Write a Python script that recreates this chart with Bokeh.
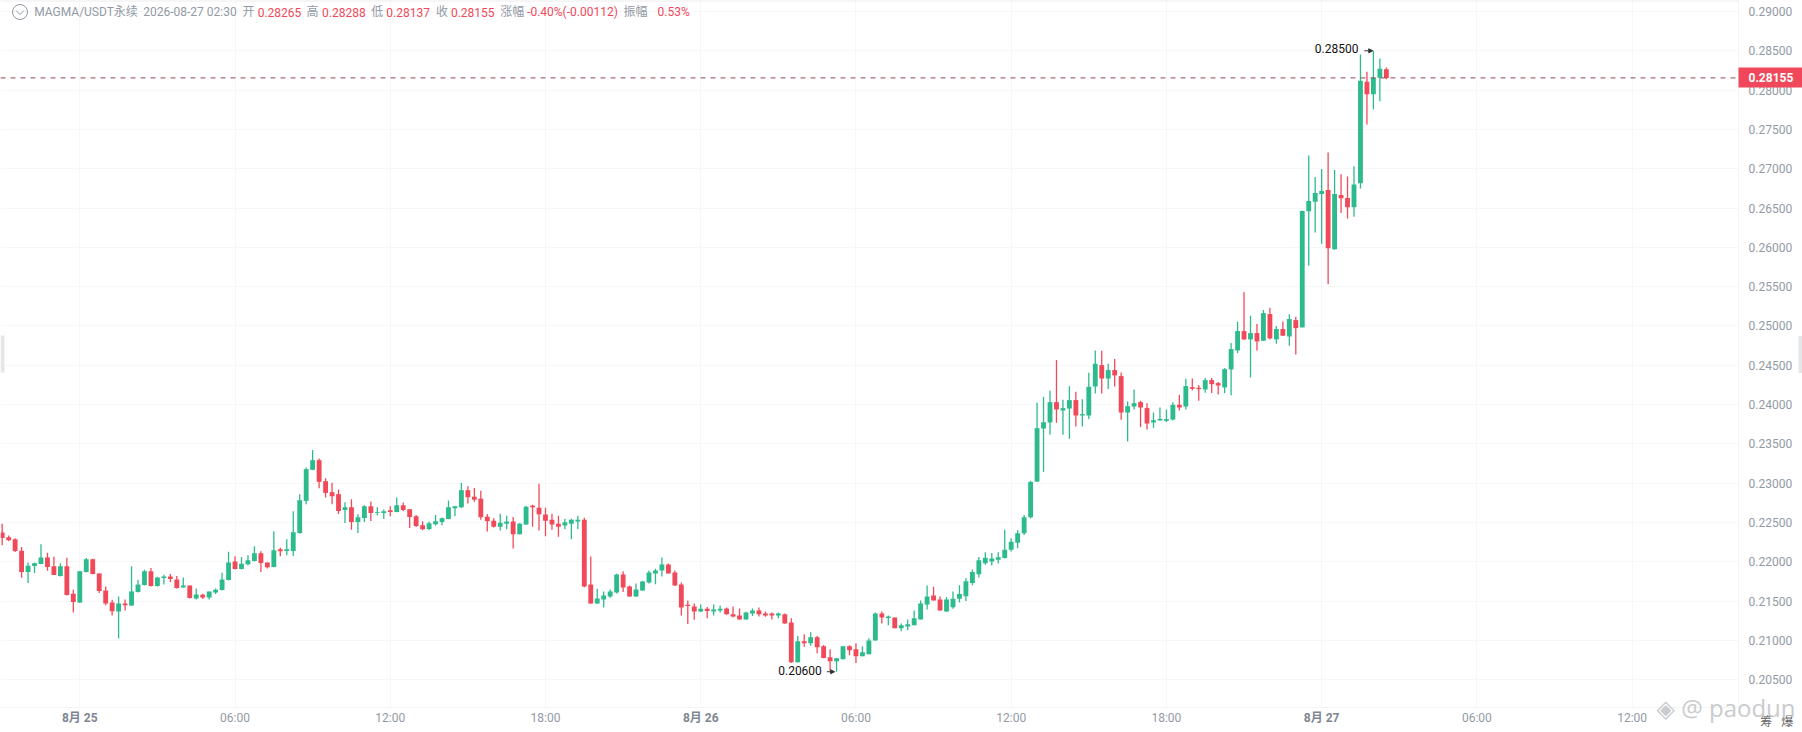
from bokeh.plotting import figure
from bokeh.embed import file_html
from bokeh.resources import INLINE
from bokeh.models import (FixedTicker, NumeralTickFormatter, Label, Span, Arrow, NormalHead,
                          BoxAnnotation, ColumnDataSource, LinearAxis)

# Prices in units of 0.00001 USDT. Index 0 is 2026-08-25 00:00, 15-minute candles.
first_index = -12
highs = [
 22484,22332,22297,22187,21991,21991,22221,22115,22064,21979,22051,21643,
 21877,22047,22038,21851,21686,21516,21558,21520,21941,21770,21898,21919,21809,21834,21843,21817,21800,21698,21660,21592,21622,21660,21860,22127,22068,22060,22081,22196,22132,21991,22387,22179,22285,22642,22859,23199,23420,23313,23062,23003,22918,22757,22795,22604,22718,22765,22693,22663,22705,22816,22752,22667,22595,22514,22510,22595,22561,22778,22710,23003,22961,
 22937,22903,22607,22552,22611,22586,22569,22493,22709,22725,22992,22687,22611,22586,22548,22548,22586,22560,22066,21655,21621,21647,21846,21880,21698,21723,21757,21888,21909,22053,21977,21888,21736,21507,21469,21456,21423,21456,21444,21418,21431,21406,21363,21406,21418,21368,21355,21355,21342,21279,21055,21076,21101,21055,20940,20885,20771,20928,20936,20962,20923,21025,21355,21368,21317,21291,21215,21266,21380,21507,21697,21681,21558,21550,
 21620,21700,21790,21900,22060,22120,22110,22120,22407,22297,22400,22595,23030,
 24022,24098,24174,24565,24060,24234,24162,24068,24404,24688,24684,24518,24578,24408,24038,24191,24047,24017,23898,23962,23937,24030,24123,24327,24331,24247,24336,24336,24285,24463,24781,25053,25427,25130,25023,25202,25231,24998,25057,25147,25117,26467,27167,26895,26997,27205,26985,26929,26900,27031,28453,28233,28500,28402,28288]
body_tops = [
 22370,22310,22285,22140,21949,21979,22055,22055,21941,21941,21941,21592,
 21877,22030,22030,21851,21635,21482,21469,21469,21622,21711,21877,21877,21800,21813,21813,21775,21698,21698,21583,21579,21622,21643,21775,21991,22004,21975,22017,22106,22106,21991,22145,22157,22157,22374,22782,23177,23292,23292,23024,22884,22859,22693,22693,22565,22705,22705,22629,22642,22654,22718,22718,22667,22578,22463,22489,22514,22552,22693,22705,22910,22910,
 22827,22802,22573,22522,22497,22510,22510,22484,22700,22713,22687,22599,22535,22484,22501,22535,22535,22535,21710,21533,21571,21621,21837,21837,21685,21647,21748,21863,21888,21964,21964,21863,21710,21452,21431,21401,21401,21393,21401,21406,21330,21317,21355,21380,21380,21342,21342,21342,21330,21228,20987,20987,21038,21038,20923,20784,20771,20923,20923,20885,20847,20999,21342,21342,21304,21291,21190,21203,21279,21469,21558,21571,21520,21520,
 21530,21590,21750,21870,22020,22050,22042,22058,22153,22255,22361,22566,23015,
 23699,23775,24030,24030,23954,24056,24056,23877,24225,24518,24501,24438,24438,24361,23979,24017,24030,23954,23801,23818,23814,23996,23996,24234,24221,24213,24310,24310,24272,24450,24705,24934,24934,24909,24909,25163,25151,24960,24960,25087,25074,26462,26590,26692,26717,26730,26679,26666,26628,26798,28118,28105,28156,28271,28265]
body_bottoms = [
 22302,22272,22136,21868,21868,21945,21970,21932,21830,21817,21575,21486,
 21482,21868,21843,21626,21469,21371,21367,21447,21443,21613,21703,21690,21690,21792,21779,21664,21673,21537,21532,21545,21545,21609,21639,21766,21907,21907,21966,22009,21983,21928,21932,22132,22136,22136,22366,22774,23169,23016,22875,22833,22646,22659,22506,22506,22557,22620,22620,22620,22633,22633,22659,22570,22455,22412,22417,22476,22506,22544,22680,22693,22820,
 22789,22565,22514,22446,22446,22484,22349,22349,22472,22692,22603,22522,22472,22446,22459,22484,22510,21685,21469,21469,21520,21558,21609,21672,21558,21558,21634,21736,21850,21888,21850,21698,21418,21435,21368,21368,21372,21368,21380,21330,21304,21266,21266,21342,21330,21317,21317,21317,21215,20720,20720,20962,20962,20911,20775,20733,20733,20758,20873,20797,20797,20822,20999,21291,21283,21152,21152,21177,21190,21266,21456,21507,21380,21368,
 21420,21530,21560,21730,21840,21980,22004,22025,22046,22153,22240,22361,22566,
 23020,23695,23771,23937,23924,23949,23860,23860,23860,24230,24331,24331,24370,23898,23898,23975,23962,23758,23771,23797,23792,23809,23962,23975,24200,24196,24191,24259,24242,24217,24446,24688,24828,24828,24803,24811,24841,24828,24875,24866,24972,24981,26458,26581,26679,25987,25974,26624,26509,26509,26815,27948,27948,28156,28155]
lows = [
 22208,22259,22123,21796,21728,21856,21966,21885,21830,21813,21571,21354,
 21473,21864,21839,21601,21447,21316,21027,21379,21435,21609,21698,21686,21686,21711,21741,21660,21673,21532,21520,21524,21520,21588,21635,21762,21902,21902,21953,22004,21868,21915,21928,22068,22081,22072,22357,22731,23165,22935,22816,22731,22608,22493,22408,22366,22506,22518,22591,22544,22578,22629,22642,22429,22442,22400,22404,22459,22463,22540,22578,22680,22740,
 22763,22535,22383,22434,22396,22412,22167,22345,22467,22446,22396,22324,22408,22319,22412,22285,22417,21676,21465,21465,21418,21541,21596,21613,21554,21554,21630,21723,21714,21812,21850,21693,21317,21207,21262,21359,21279,21317,21355,21325,21291,21266,21262,21308,21304,21300,21266,21279,21211,20712,20716,20919,20932,20835,20771,20615,20600,20758,20809,20712,20797,20822,20999,21215,21190,21152,21114,21127,21190,21266,21393,21507,21376,21359,
 21400,21480,21500,21700,21800,21960,21953,21978,22040,22130,22170,22340,22550,
 23015,23143,23614,23767,23614,23563,23720,23720,23814,24140,24140,24196,24230,23805,23529,23937,23712,23682,23703,23797,23775,23797,23924,23937,24179,24047,24149,24145,24128,24145,24119,24654,24824,24344,24688,24807,24828,24773,24871,24747,24637,24981,25766,26187,26046,25529,25970,26437,26365,26390,26747,27562,27753,27859,28137]
# u = close above open (green), d = close below open (red)
directions = ("dddduuuddudd" "uuddddudu" "u" "uduuddudud" "uuuuduuudd" "uduuuuuddd" "duduuduudu" "dddduuuuuu" "d"
              "dddduuduud" "dddduuuddu" "uuudduuuuu" "ddddduduud" "dduudddudd" "ududdduudd" "uuududuuuu" "uddu"
              "uuuuuuuuuuuuu" "uuuduuduuu" "dudduudduu" "uududduddu" "uududududu" "duuuududdu" "uduud")
n = len(highs)
assert len(body_tops) == n and len(body_bottoms) == n and len(lows) == n
assert len(directions) == n

price_ticks = [round(0.205 + 0.005 * k, 3) for k in range(18)]
time_ticks = [0, 24, 48, 72, 96, 120, 144, 168, 192, 216, 240]
time_labels = ["", "06:00", "12:00", "18:00", "", "06:00", "12:00", "18:00", "", "06:00", "12:00"]
date_ticks = [0, 96, 192]
date_labels = ["8月 25", "8月 26", "8月 27"]
last_price = 0.28155
max_price = 0.285
min_price = 0.206
header = [
    ("MAGMA/USDT永续", 33.7, "g"), ("2026-08-27 02:30", 142.7, "g"),
    ("开", 241.9, "g"), ("0.28265", 257.2, "r"), ("高", 306, "g"), ("0.28288", 321.5, "r"),
    ("低", 370.8, "g"), ("0.28137", 385.8, "r"), ("收", 435.5, "g"), ("0.28155", 450.4, "r"),
    ("涨幅", 499.8, "g"), ("-0.40%(-0.00112)", 526.6, "r"), ("振幅", 623, "g"), ("0.53%", 657, "r"),
]

GREEN, RED, GRAY = "#2DBB8E", "#F04A5A", "#929AA5"
FONT = "Roboto, 'Noto Sans CJK SC', sans-serif"
FRAME_W, FRAME_H = 1738, 707
PX_PER_CANDLE = 6.468
X0 = 79.3
PX_PER_UNIT = 39.3 / 0.005


def xi(px):
    return (px - X0) / PX_PER_CANDLE


def yp(py):
    return 0.29 - (py - 11) / PX_PER_UNIT


p = figure(width=1802, height=732, frame_width=FRAME_W, frame_height=FRAME_H,
           x_range=(xi(0), xi(FRAME_W)), y_range=(yp(FRAME_H), yp(0)),
           y_axis_location="right", toolbar_location=None, output_backend="svg",
           min_border_left=0, min_border_top=0, min_border_right=0, min_border_bottom=0,
           background_fill_color="white", border_fill_color="white")
p.styles = {"position": "absolute", "left": "0px", "top": "0px"}
p.outline_line_color = None

p.xaxis.ticker = FixedTicker(ticks=time_ticks)
p.xaxis.major_label_overrides = dict(zip(time_ticks, time_labels))
p.yaxis.ticker = FixedTicker(ticks=price_ticks)
p.yaxis.formatter = NumeralTickFormatter(format="0.00000")
for ax in (p.xaxis[0], p.yaxis[0]):
    ax.major_tick_line_color = None
    ax.major_tick_in = 0
    ax.major_tick_out = 0
    ax.minor_tick_line_color = None
    ax.minor_tick_in = 0
    ax.minor_tick_out = 0
    ax.axis_line_color = "#F3F3F3"
    ax.major_label_text_color = GRAY
    ax.major_label_text_font = FONT
    ax.major_label_text_font_size = "12px"
p.yaxis.major_label_standoff = 10
p.xaxis.major_label_standoff = 3
p.xgrid.grid_line_color = "#F7F7F7"
p.ygrid.grid_line_color = "#F7F7F7"

# bold day labels: a second bottom axis pulled back onto the first one
date_axis = LinearAxis(ticker=FixedTicker(ticks=date_ticks), major_label_overrides=dict(zip(date_ticks, date_labels)),
                       axis_line_color=None, major_tick_line_color=None, minor_tick_line_color=None,
                       major_tick_in=0, major_tick_out=0, minor_tick_in=0, minor_tick_out=0,
                       major_label_text_font=FONT, major_label_text_font_size="12px",
                       major_label_text_font_style="bold", major_label_text_color="#7E8691",
                       major_label_standoff=-17)
p.add_layout(date_axis, "below")

# last price tag: an outer right axis whose single thick tick is the tag
tag_axis = LinearAxis(ticker=FixedTicker(ticks=[last_price]), formatter=NumeralTickFormatter(format="0.00000"),
                      axis_line_color=None, minor_tick_line_color=None, minor_tick_in=0, minor_tick_out=0,
                      major_tick_line_color="#F0485A", major_tick_line_width=20, major_tick_in=57, major_tick_out=7,
                      major_label_text_font=FONT, major_label_text_font_size="12px",
                      major_label_text_font_style="bold", major_label_text_color="white",
                      major_label_standoff=-54,
                      axis_label=" \n \n筹\u00a0\u00a0\u00a0爆", axis_label_orientation="horizontal", axis_label_align="start",
                      axis_label_standoff=-36, axis_label_text_font=FONT, axis_label_text_font_size="12px",
                      axis_label_text_font_style="normal", axis_label_text_color="#666666",
                      axis_label_text_baseline="middle", axis_label_text_line_height=1.05)
p.add_layout(tag_axis, "right")

# right side handle: one more thick tick at the page edge; the watermark is this axis's label
handle_axis = LinearAxis(ticker=FixedTicker(ticks=[yp(353.5)]), major_label_overrides={yp(353.5): ""},
                         axis_line_color=None, minor_tick_line_color=None, minor_tick_in=0, minor_tick_out=0,
                         major_tick_line_color="#E4E6E8", major_tick_line_width=37, major_tick_in=-2, major_tick_out=6,
                         major_label_standoff=-6, major_label_text_font_size="1px",
                         axis_label="◈  @ paodun", axis_label_orientation="horizontal", axis_label_align="start",
                         axis_label_standoff=-146, axis_label_text_font="Open Sans, DejaVu Sans",
                         axis_label_text_font_size="24px", axis_label_text_font_style="normal",
                         axis_label_text_color="#C9CBCE", axis_label_text_baseline="middle")
p.add_layout(handle_axis, "right")

rows = {"u": dict(i=[], h=[], l=[], t=[], b=[]), "d": dict(i=[], h=[], l=[], t=[], b=[])}
for k in range(n):
    r = rows[directions[k]]
    r["i"].append(first_index + k)
    r["h"].append(highs[k] / 1e5)
    r["l"].append(lows[k] / 1e5)
    r["t"].append(body_tops[k] / 1e5)
    r["b"].append(body_bottoms[k] / 1e5)
for key, col in (("u", GREEN), ("d", RED)):
    src = ColumnDataSource(rows[key])
    p.segment(x0="i", y0="l", x1="i", y1="h", source=src, line_color=col, line_width=1.3)
    p.vbar(x="i", top="t", bottom="b", width=0.75, source=src, fill_color=col, line_color=None)

p.add_layout(Span(location=last_price, dimension="width", line_color="#8E4A54", line_width=1, line_dash="5 5"))
p.add_layout(Span(location=yp(0), dimension="width", line_color="#EEEEEE", line_width=2))

for text, px, kind in header:
    p.add_layout(Label(x=xi(px), y=yp(11.5), text=text, text_font=FONT, text_font_size="12px",
                       text_color=GRAY if kind == "g" else RED, text_baseline="middle"))

# collapse icon
p.scatter(x=[xi(19.5)], y=[yp(11.5)], marker="circle", size=15, fill_color=None, line_color=GRAY, line_width=1)
p.line(x=[xi(15.5), xi(19.5), xi(23.5)], y=[yp(10), yp(14), yp(10)], line_color=GRAY, line_width=1)

# extreme markers
p.add_layout(Label(x=200, y=max_price, x_offset=-15, y_offset=2, text=f"{max_price:.5f}", text_font=FONT,
                   text_font_size="12px", text_color="#111111", text_align="right", text_baseline="middle"))
p.add_layout(Arrow(end=NormalHead(size=4, fill_color="#333333", line_color="#333333"), line_color="#333333",
                   line_width=1, x_start=198.6, y_start=max_price, x_end=199.9, y_end=max_price))
p.add_layout(Label(x=115.5, y=min_price, x_offset=-5, y_offset=1.5, text=f"{min_price:.5f}", text_font=FONT,
                   text_font_size="12px", text_color="#111111", text_align="right", text_baseline="middle"))
p.add_layout(Arrow(end=NormalHead(size=4, fill_color="#333333", line_color="#333333"), line_color="#333333",
                   line_width=1, x_start=115.5, y_start=min_price, x_end=116.7, y_end=min_price))

# left side handle
p.add_layout(BoxAnnotation(left=xi(0), right=xi(4), top=yp(335), bottom=yp(372), fill_color="#E4E6E8",
                           fill_alpha=1, line_color=None))

open("out.html", "w").write(file_html(p, INLINE))
